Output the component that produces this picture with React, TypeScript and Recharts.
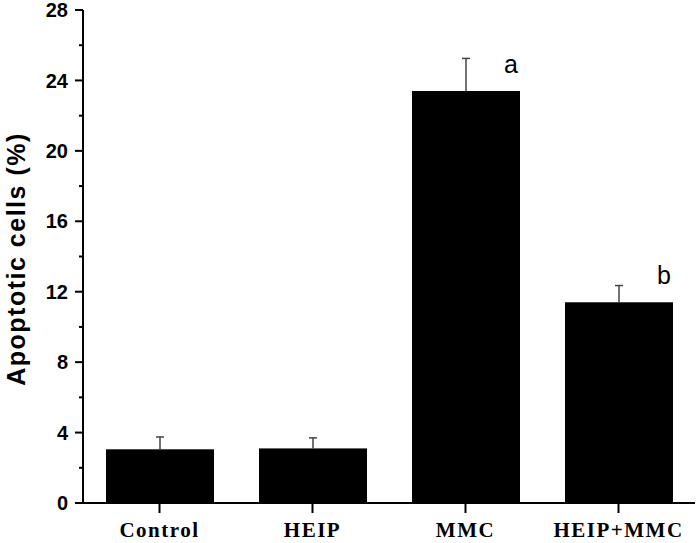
import React from 'react';
import { BarChart, Bar, XAxis, YAxis, LabelList } from 'recharts';

const categories = ['Control', 'HEIP', 'MMC', 'HEIP+MMC'];
const apoptotic = [3.05, 3.1, 23.4, 11.4];
const sem = [0.7, 0.6, 1.85, 0.95];
const significance = ['', '', 'a', 'b'];
const yTicks = [0, 2, 4, 6, 8, 10, 12, 14, 16, 18, 20, 22, 24, 26, 28];
const yLabeled = [0, 4, 8, 12, 16, 20, 24, 28];

const data = categories.map((name, i) => ({
  name,
  value: apoptotic[i],
  sem: sem[i],
  sig: significance[i],
}));

// bar with an upward-only error whisker, scaled from the bar's own px/unit
const BarWithError = ({ x, y, width, height, payload }: any) => {
  const pxPerUnit = height / payload.value;
  const top = y - payload.sem * pxPerUnit;
  const cx = x + width / 2;
  return (
    <g>
      <rect x={x} y={y} width={width} height={height} fill="#000" />
      <line x1={cx} y1={y} x2={cx} y2={top} stroke="#444" strokeWidth={1.5} />
      <line x1={cx - 4} y1={top} x2={cx + 4} y2={top} stroke="#444" strokeWidth={1.5} />
    </g>
  );
};

const YTick = ({ x, y, payload }: any) => {
  const major = yLabeled.includes(payload.value);
  return (
    <g>
      <line x1={x - (major ? 8 : 4)} y1={y} x2={x} y2={y} stroke="#000" strokeWidth={2} />
      {major && (
        <text
          x={x - 15}
          y={y}
          dy="0.36em"
          textAnchor="end"
          fontFamily="'Liberation Sans', Arial, sans-serif"
          fontWeight="bold"
          fontSize={20}
          fill="#000"
        >
          {payload.value}
        </text>
      )}
    </g>
  );
};

const XTick = ({ x, y, payload }: any) => (
  <text
    x={x}
    y={y}
    dy="0.71em"
    textAnchor="middle"
    fontFamily="'Liberation Serif', 'Times New Roman', serif"
    fontWeight="bold"
    fontSize={21}
    letterSpacing={1.5}
    fill="#000"
  >
    {payload.value}
  </text>
);

const SigLabel = ({ x, y, width, value }: any) => {
  if (!value) return null;
  return (
    <text
      x={x + width / 2 + 45}
      y={y - 18}
      textAnchor="middle"
      fontFamily="'Liberation Sans', Arial, sans-serif"
      fontSize={25}
      fill="#000"
    >
      {value}
    </text>
  );
};

const YTitle = () => (
  <text
    x={0}
    y={0}
    transform="translate(25, 259) rotate(-90)"
    textAnchor="middle"
    fontFamily="'Liberation Sans', Arial, sans-serif"
    fontWeight="bold"
    fontSize={25}
    letterSpacing={1.5}
    fill="#000"
  >
    Apoptotic cells (%)
  </text>
);

export default function App() {
  return (
    <div style={{ width: 699, height: 543, background: '#fff' }}>
      <style>{'body{margin:0;}'}</style>
      <BarChart
        width={699}
        height={543}
        data={data}
        margin={{ top: 10, right: 4, bottom: 0, left: 0 }}
      >
        <XAxis
          dataKey="name"
          height={40}
          axisLine={{ stroke: '#000', strokeWidth: 2 }}
          tickLine={{ stroke: '#000', strokeWidth: 2 }}
          tickSize={10}
          tickMargin={9}
          tick={<XTick />}
          interval={0}
        />
        <YAxis
          width={83}
          domain={[0, 28]}
          ticks={yTicks}
          interval={0}
          axisLine={{ stroke: '#000', strokeWidth: 2 }}
          tickLine={false}
          tickSize={0}
          tickMargin={0}
          tick={<YTick />}
          label={<YTitle />}
        />
        <Bar dataKey="value" fill="#000" barSize={108} shape={<BarWithError />} isAnimationActive={false}>
          <LabelList dataKey="sig" content={<SigLabel />} />
        </Bar>
      </BarChart>
    </div>
  );
}
